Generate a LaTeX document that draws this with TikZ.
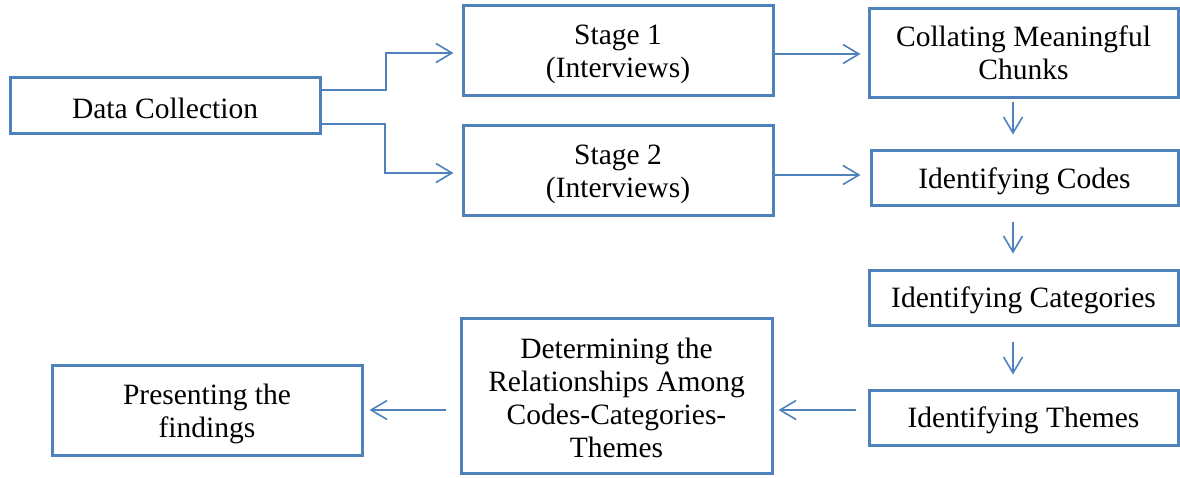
\documentclass[tikz,border=0pt]{standalone}
\usepackage{fontspec}
\setmainfont{Liberation Serif}
\usetikzlibrary{arrows.meta}
\definecolor{obl}{HTML}{4F81BD}
\begin{document}
\begin{tikzpicture}[x=1pt,y=-1pt,
  box/.style={draw=obl,line width=3pt,fill=white,inner sep=0pt,anchor=center},
  txt/.style={align=center,inner sep=0pt,font=\fontsize{29.5}{33}\selectfont},
  conn/.style={draw=obl,line width=1.6pt,-{Straight Barb[length=16pt,width=19pt,line width=1.6pt]}}]
\useasboundingbox (0,0) rectangle (1180,477);
\node[box,minimum width=310pt,minimum height=56pt,label={[txt,yshift=-3pt]center:Data Collection}] (dc) at (165,105) {};
\node[box,minimum width=310pt,minimum height=90pt,label={[txt,yshift=-4pt]center:{Stage 1\\(Interviews)}}] (s1) at (618,50) {};
\node[box,minimum width=310pt,minimum height=90pt,label={[txt,yshift=-4pt]center:{Stage 2\\(Interviews)}}] (s2) at (618,170) {};
\node[box,minimum width=309pt,minimum height=89pt,label={[txt,yshift=0pt]center:{Collating Meaningful\\Chunks}}] (cm) at (1023.5,52.5) {};
\node[box,minimum width=307pt,minimum height=55pt,label={[txt,yshift=-4pt]center:Identifying Codes}] (ic) at (1024.5,177.5) {};
\node[box,minimum width=309pt,minimum height=55pt,label={[txt,yshift=-3pt]center:Identifying Categories}] (icat) at (1023.5,297.5) {};
\node[box,minimum width=309pt,minimum height=55pt,label={[txt,yshift=-3pt]center:Identifying Themes}] (it) at (1023.5,417.5) {};
\node[box,minimum width=311pt,minimum height=155pt,label={[txt,yshift=-2pt]center:{Determining the\\Relationships Among\\Codes-Categories-\\Themes}}] (dr) at (616.5,395.5) {};
\node[box,minimum width=310pt,minimum height=90pt,label={[txt,yshift=-4pt]center:{Presenting the\\findings}}] (pf) at (207,410) {};
\coordinate (a1) at (386,90);
\coordinate (a2) at (385,124);
\draw[conn] (dc.east |- a1) -- (a1) |- ([xshift=-8pt]s1.west |- 0,53);
\draw[conn] (dc.east |- a2) -- (a2) |- ([xshift=-8pt]s2.west |- 0,173);
\draw[conn] (s1.east |- 0,54) -- ([xshift=-7pt]cm.west |- 0,54);
\draw[conn] (s2.east |- 0,175) -- ([xshift=-9pt]ic.west |- 0,175);
\draw[conn] ([yshift=-3pt]cm.south -| 1013,0) -- ([yshift=14pt]ic.north -| 1013,0);
\draw[conn] ([yshift=-15pt]ic.south -| 1013,0) -- ([yshift=15pt]icat.north -| 1013,0);
\draw[conn] ([yshift=-15pt]icat.south -| 1013,0) -- ([yshift=14pt]it.north -| 1013,0);
\draw[conn] ([xshift=-12pt]it.west |- 0,410) -- ([xshift=5pt]dr.east |- 0,410);
\draw[conn] ([xshift=-14pt]dr.west |- 0,410) -- ([xshift=6pt]pf.east |- 0,410);
\end{tikzpicture}
\end{document}
